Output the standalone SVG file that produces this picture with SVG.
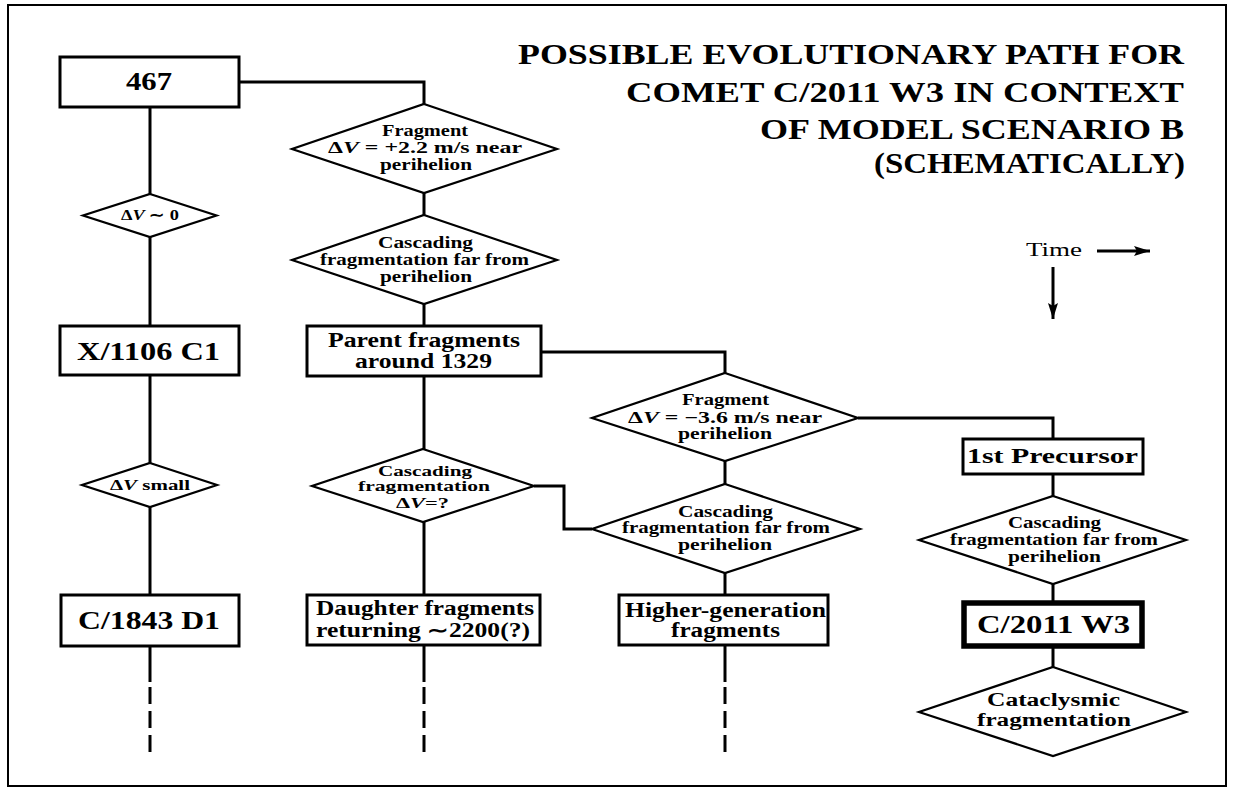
<svg xmlns="http://www.w3.org/2000/svg" width="1233" height="789" viewBox="0 0 1233 789">
<style>
text{font-family:"Liberation Serif","Times New Roman",serif;font-weight:bold;fill:#000}
.t{font-size:30px}
.b{font-size:26px}
.m{font-size:20px}
.d{font-size:16px}
.s{font-size:15px}
.box{fill:#fff;stroke:#000;stroke-width:3}
.thick{fill:#fff;stroke:#000;stroke-width:5.5}
.dia{fill:#fff;stroke:#000;stroke-width:2.2}
.c{fill:none;stroke:#000;stroke-width:3}
.dash{fill:none;stroke:#000;stroke-width:3;stroke-dasharray:17 7}
</style>
<defs>
<marker id="ah" markerUnits="userSpaceOnUse" markerWidth="18" markerHeight="12" refX="16" refY="5" orient="auto">
<path d="M0,0 L16,5 L0,10 L3,5 Z" fill="#000"/>
</marker>
</defs>
<rect x="8" y="5" width="1218" height="781" fill="#fff" stroke="#000" stroke-width="2"/>
<g id="title">
<text class="t" x="518" y="64" textLength="666" lengthAdjust="spacingAndGlyphs">POSSIBLE EVOLUTIONARY PATH FOR</text>
<text class="t" x="626" y="102" textLength="558" lengthAdjust="spacingAndGlyphs">COMET C/2011 W3 IN CONTEXT</text>
<text class="t" x="760" y="139" textLength="424" lengthAdjust="spacingAndGlyphs">OF MODEL SCENARIO B</text>
<text class="t" x="874" y="173" textLength="311" lengthAdjust="spacingAndGlyphs">(SCHEMATICALLY)</text>
</g>
<g id="connectors">
<polyline class="c" points="239,82 424,82 424,104"/>
<line class="c" x1="150" y1="107" x2="150" y2="194"/>
<line class="c" x1="150" y1="237" x2="150" y2="326"/>
<line class="c" x1="150" y1="375" x2="150" y2="463"/>
<line class="c" x1="150" y1="507" x2="150" y2="595"/>
<line class="c" x1="150" y1="646" x2="150" y2="682"/>
<line class="dash" x1="150" y1="687" x2="150" y2="754"/>
<line class="c" x1="424" y1="193" x2="424" y2="215"/>
<line class="c" x1="424" y1="304" x2="424" y2="326"/>
<line class="c" x1="424" y1="376" x2="424" y2="449"/>
<line class="c" x1="424" y1="522" x2="424" y2="595"/>
<line class="c" x1="424" y1="645" x2="424" y2="682"/>
<line class="dash" x1="424" y1="687" x2="424" y2="754"/>
<polyline class="c" points="541,352 725,352 725,373"/>
<line class="c" x1="725" y1="461" x2="725" y2="484"/>
<polyline class="c" points="534,486 564,486 564,529 592,529"/>
<line class="c" x1="725" y1="573" x2="725" y2="595"/>
<line class="c" x1="725" y1="645" x2="725" y2="682"/>
<line class="dash" x1="725" y1="687" x2="725" y2="754"/>
<polyline class="c" points="858,418 1053,418 1053,439"/>
<line class="c" x1="1053" y1="474" x2="1053" y2="496"/>
<line class="c" x1="1053" y1="584" x2="1053" y2="603"/>
<line class="c" x1="1053" y1="646" x2="1053" y2="667"/>
<line class="c" x1="1097" y1="251" x2="1150" y2="251" marker-end="url(#ah)"/>
<line class="c" x1="1053" y1="267" x2="1053" y2="319" marker-end="url(#ah)"/>
</g>
<g id="time">
<text x="1026" y="256" style="font-size:19px;font-weight:normal" textLength="56" lengthAdjust="spacingAndGlyphs">Time</text>
</g>
<g id="n467">
<rect class="box" x="60" y="57" width="179" height="50"/>
<text class="b" x="126" y="90" textLength="46" lengthAdjust="spacingAndGlyphs">467</text>
</g>
<g id="dv0">
<polygon class="dia" points="150,194 216.5,215.5 150,237 83,215.5"/>
<text class="s" x="121" y="220" textLength="58" lengthAdjust="spacingAndGlyphs">Δ<tspan font-style="italic">V</tspan> ∼ 0</text>
</g>
<g id="x1106">
<rect class="box" x="60" y="326" width="179" height="49"/>
<text class="b" x="77" y="360" textLength="143" lengthAdjust="spacingAndGlyphs">X/1106 C1</text>
</g>
<g id="dvsmall">
<polygon class="dia" points="150,463 217,485 150,507 82,485"/>
<text class="s" x="110" y="490" textLength="80" lengthAdjust="spacingAndGlyphs">Δ<tspan font-style="italic">V</tspan> small</text>
</g>
<g id="c1843">
<rect class="box" x="61" y="595" width="178" height="51"/>
<text class="b" x="78" y="629" textLength="142" lengthAdjust="spacingAndGlyphs">C/1843 D1</text>
</g>
<g id="frag1">
<polygon class="dia" points="424,104 557,149 424,193 292,149"/>
<text class="d" x="382" y="136" textLength="86" lengthAdjust="spacingAndGlyphs">Fragment</text>
<text class="d" x="328" y="153" textLength="194" lengthAdjust="spacingAndGlyphs">Δ<tspan font-style="italic">V</tspan> = +2.2 m/s near</text>
<text class="d" x="380" y="170" textLength="92" lengthAdjust="spacingAndGlyphs">perihelion</text>
</g>
<g id="casc1">
<polygon class="dia" points="424,215 557,260 424,304 292,260"/>
<text class="d" x="378" y="248" textLength="95" lengthAdjust="spacingAndGlyphs">Cascading</text>
<text class="d" x="320" y="265" textLength="209" lengthAdjust="spacingAndGlyphs">fragmentation far from</text>
<text class="d" x="380" y="282" textLength="92" lengthAdjust="spacingAndGlyphs">perihelion</text>
</g>
<g id="parent">
<rect class="box" x="307" y="326" width="234" height="50"/>
<text class="m" x="328" y="347" textLength="192" lengthAdjust="spacingAndGlyphs">Parent fragments</text>
<text class="m" x="355" y="368" textLength="137" lengthAdjust="spacingAndGlyphs">around 1329</text>
</g>
<g id="cascdv">
<polygon class="dia" points="423,449 534,486 423,522 312,486"/>
<text class="s" x="378" y="476" textLength="94" lengthAdjust="spacingAndGlyphs">Cascading</text>
<text class="s" x="358" y="491" textLength="132" lengthAdjust="spacingAndGlyphs">fragmentation</text>
<text class="s" x="396" y="508" textLength="53" lengthAdjust="spacingAndGlyphs">Δ<tspan font-style="italic">V</tspan>=?</text>
</g>
<g id="daughter">
<rect class="box" x="307" y="595" width="233" height="50"/>
<text class="m" x="316" y="615" textLength="218" lengthAdjust="spacingAndGlyphs">Daughter fragments</text>
<text class="m" x="316" y="637" textLength="214" lengthAdjust="spacingAndGlyphs">returning ∼2200(?)</text>
</g>
<g id="frag2">
<polygon class="dia" points="725,373 858,418 725,461 592,418"/>
<text class="d" x="682" y="405" textLength="87" lengthAdjust="spacingAndGlyphs">Fragment</text>
<text class="d" x="628" y="423" textLength="194" lengthAdjust="spacingAndGlyphs">Δ<tspan font-style="italic">V</tspan> = −3.6 m/s near</text>
<text class="d" x="678" y="439" textLength="94" lengthAdjust="spacingAndGlyphs">perihelion</text>
</g>
<g id="casc2">
<polygon class="dia" points="725,484 860,529 725,573 592,529"/>
<text class="d" x="678" y="517" textLength="95" lengthAdjust="spacingAndGlyphs">Cascading</text>
<text class="d" x="622" y="533" textLength="208" lengthAdjust="spacingAndGlyphs">fragmentation far from</text>
<text class="d" x="678" y="550" textLength="94" lengthAdjust="spacingAndGlyphs">perihelion</text>
</g>
<g id="higher">
<rect class="box" x="619" y="595" width="209" height="50"/>
<text class="m" x="625" y="617" textLength="201" lengthAdjust="spacingAndGlyphs">Higher-generation</text>
<text class="m" x="671" y="637" textLength="109" lengthAdjust="spacingAndGlyphs">fragments</text>
</g>
<g id="precursor">
<rect class="box" x="963" y="439" width="180" height="35"/>
<text x="967" y="463" style="font-size:22px" textLength="171" lengthAdjust="spacingAndGlyphs">1st Precursor</text>
</g>
<g id="casc3">
<polygon class="dia" points="1053,496 1186,540 1053,584 919,540"/>
<text class="d" x="1008" y="528" textLength="93" lengthAdjust="spacingAndGlyphs">Cascading</text>
<text class="d" x="950" y="545" textLength="208" lengthAdjust="spacingAndGlyphs">fragmentation far from</text>
<text class="d" x="1008" y="562" textLength="93" lengthAdjust="spacingAndGlyphs">perihelion</text>
</g>
<g id="w3">
<rect class="thick" x="964" y="603" width="178" height="43"/>
<text class="b" x="977" y="633" textLength="153" lengthAdjust="spacingAndGlyphs">C/2011 W3</text>
</g>
<g id="cata">
<polygon class="dia" points="1053,667 1186,712 1053,756 919,712"/>
<text x="987" y="706" style="font-size:18.5px" textLength="133" lengthAdjust="spacingAndGlyphs">Cataclysmic</text>
<text x="977" y="726" style="font-size:18.5px" textLength="154" lengthAdjust="spacingAndGlyphs">fragmentation</text>
</g>
</svg>
